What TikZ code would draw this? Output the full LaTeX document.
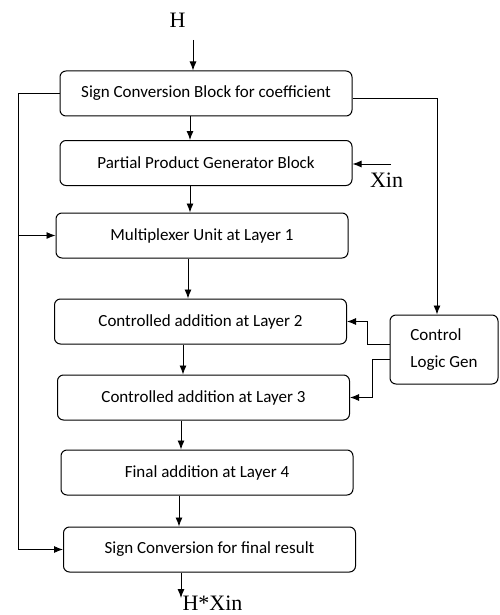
\documentclass[tikz,border=0pt]{standalone}
\usepackage{fontspec}
\setmainfont{Carlito}
\newfontfamily\lblfont{Liberation Serif}
\usetikzlibrary{arrows.meta}
\begin{document}
\begin{tikzpicture}
[   x=1pt,y=-1pt,
    bnode/.style={draw=black,line width=1pt,rounded corners=6pt,minimum width=#1,minimum height=45pt,
        inner sep=0pt,font=\fontsize{17}{27}\selectfont},
    bnode/.default=292pt,
    arr/.style={line width=0.9pt,-{Latex[length=9pt,width=7pt]}},
    io/.style={font=\lblfont\fontsize{22}{24}\selectfont,inner sep=0pt},
]
    \useasboundingbox (0,0) rectangle (499,615);
    \foreach \n/\x/\y/\t in {1/206/93.5/Sign Conversion Block for coefficient,
                             2/206/163/Partial Product Generator Block,
                             3/202/235.5/Multiplexer Unit at Layer 1,
                             4/200.5/321.5/Controlled addition at Layer 2,
                             5/203.5/397.5/Controlled addition at Layer 3,
                             6/207/472.5/Final addition at Layer 4,
                             7/209.5/549.5/Sign Conversion for final result}
    {   \node[bnode] (b-\n) at (\x,\y) {\t};
    }
    \node[bnode=108pt,minimum height=69pt,align=left] (ctl) at (444,349.5) {Control\\Logic Gen};
    \node[io] (h) at (177.5,20) {H};
    \node[io] (xin) at (386.5,180) {Xin};
    \node[io] (hx) at (212.5,603) {H*Xin};
    \coordinate (in) at (193,40);
    \coordinate (xi) at (391,164);
    \coordinate (out) at (181,598);
    \draw[arr] (in) -- (in |- b-1.north);
    \foreach \a/\b/\x in {1/2/190,2/3/190,3/4/188,4/5/183,5/6/181,6/7/179}
    {   \draw[arr] (b-\a.south -| \x,0) -- (b-\b.north -| \x,0);
    }
    \draw[arr] (xi) -- (xi -| b-2.east);
    \draw[arr] (b-7.south -| out) -- (out);
    % sign path on the left
    \draw[arr] (b-1.west) -- (b-1.west -| 18,0) |- (b-7.west);
    \draw[arr] (b-3.west -| 18,0) -- (b-3.west);
    % control logic
    \draw[arr] ([yshift=-5pt]b-1.east) -| ([xshift=-7pt]ctl.north);
    \draw[arr] ([yshift=5pt]ctl.west) -- ++(-22,0) |- (b-4.east);
    \draw[arr] ([yshift=-10pt]ctl.west) -- ++(-17,0) |- (b-5.east);
\end{tikzpicture}
\end{document}
